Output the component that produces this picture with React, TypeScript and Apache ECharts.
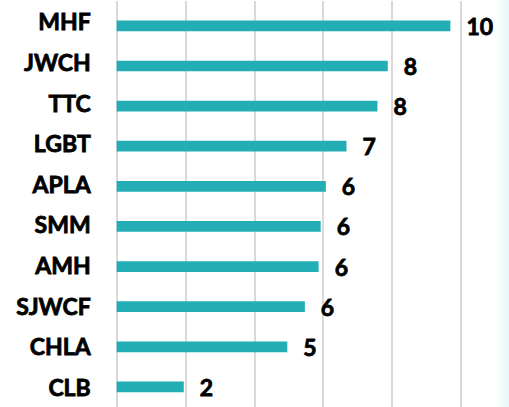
import React, { useEffect, useRef } from "react";
import * as echarts from "echarts";

const categories = ["MHF", "JWCH", "TTC", "LGBT", "APLA", "SMM", "AMH", "SJWCF", "CHLA", "CLB"];
const values = [9.7, 7.88, 7.58, 6.68, 6.08, 5.93, 5.87, 5.47, 4.96, 1.95];
const valueLabels = ["10", "8", "8", "7", "6", "6", "6", "6", "5", "2"];
const xTicks = [0, 2, 4, 6, 8, 10];

const FONT = "Lato, 'Open Sans', sans-serif";

export default function App() {
  const ref = useRef<HTMLDivElement>(null);
  useEffect(() => {
    if (!ref.current) return;
    const chart = echarts.init(ref.current, null, { renderer: "svg" });
    const left = 116.7;
    const right = 509 - 460.7;
    const textStyle = {
      color: "#000000",
      fontFamily: FONT,
      fontWeight: "bold",
      fontSize: 23,
      textBorderColor: "#000000",
      textBorderWidth: 0.8,
    };
    chart.setOption({
      animation: false,
      backgroundColor: "#ffffff",
      graphic: [
        {
          type: "rect",
          shape: { x: 494, y: 0, width: 15, height: 407 },
          style: {
            fill: new echarts.graphic.LinearGradient(0, 0, 1, 0, [
              { offset: 0, color: "#ffffff" },
              { offset: 1, color: "#e6f7f9" },
            ]),
          },
          z: -1,
        },
      ],
      grid: [
        { left, right, top: 1, height: 411, containLabel: false },
        { left, right, top: 5.8, height: 410.8, containLabel: false },
      ],
      xAxis: [
        {
          gridIndex: 0,
          type: "value",
          min: xTicks[0],
          max: xTicks[xTicks.length - 1],
          interval: 2,
          axisLabel: { show: false },
          axisLine: { show: false },
          axisTick: { show: false },
          splitLine: { show: true, lineStyle: { color: "#d9d9d9", width: 2 } },
        },
        {
          gridIndex: 1,
          type: "value",
          min: xTicks[0],
          max: xTicks[xTicks.length - 1],
          show: false,
          splitLine: { show: false },
        },
      ],
      yAxis: [
        {
          gridIndex: 0,
          type: "category",
          data: categories,
          inverse: true,
          axisLine: { show: false },
          axisTick: { show: false },
          splitLine: { show: false },
          axisLabel: { margin: 26, ...textStyle },
        },
        {
          gridIndex: 1,
          type: "category",
          data: categories,
          inverse: true,
          show: false,
        },
      ],
      series: [
        {
          type: "bar",
          xAxisIndex: 1,
          yAxisIndex: 1,
          data: values,
          barWidth: 10.7,
          itemStyle: { color: "#22aeb4" },
          label: {
            show: true,
            position: "right",
            distance: 16,
            ...textStyle,
            formatter: (p: any) => valueLabels[p.dataIndex],
          },
        },
      ],
    });
    return () => chart.dispose();
  }, []);
  return (
    <div
      ref={ref}
      style={{ position: "fixed", left: 0, top: 0, width: 509, height: 407 }}
    />
  );
}
